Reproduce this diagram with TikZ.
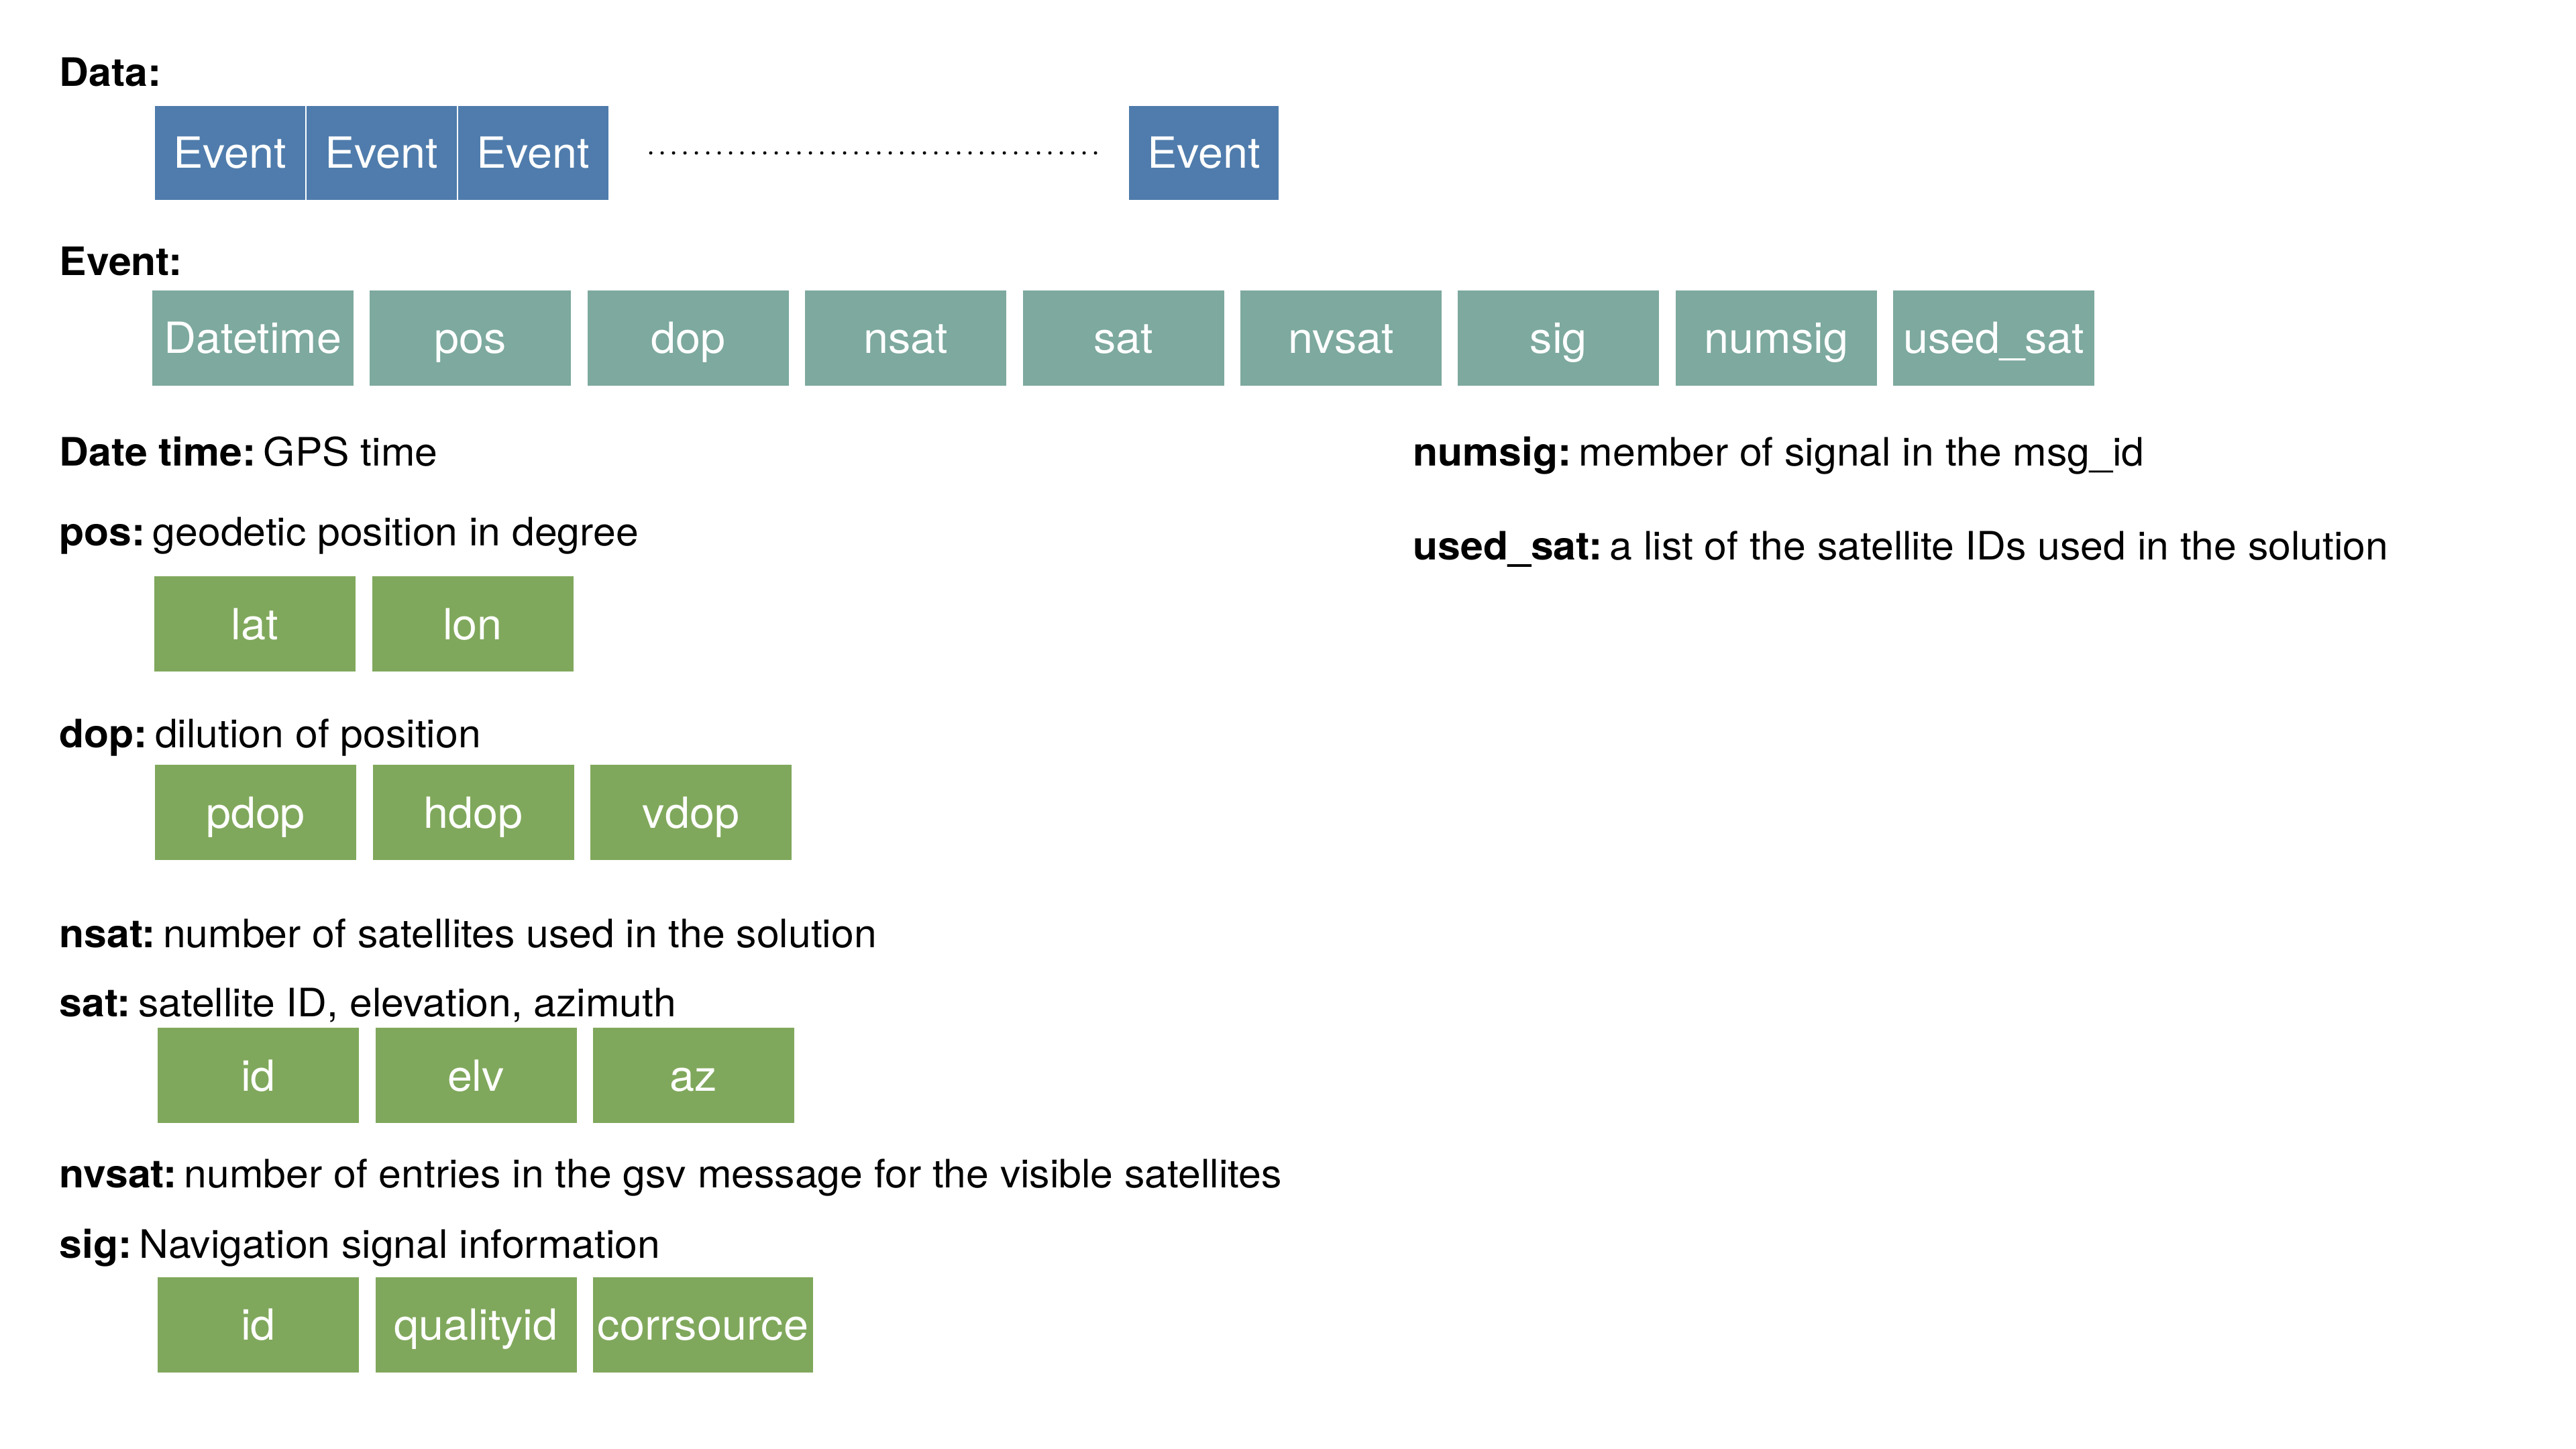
\documentclass[tikz,border=0pt]{standalone}
\usepackage{fontspec}
\setmainfont[FakeStretch=1.04]{TeX Gyre Heros}
\usepackage{xcolor}
\usepackage{tikz}
\definecolor{bleuevt}{RGB}{79,124,172}
\definecolor{vertchamp}{RGB}{125,169,158}
\definecolor{vertsous}{RGB}{128,168,92}
\def\Etiquette#1#2{{\bfseries #1}\hspace{0.19em}#2}

\begin{document}
\begin{tikzpicture}[xscale=1,yscale=1]
% Styles (MODIFIABLES)
\tikzstyle{titre}=[anchor=base west,inner sep=0pt,font=\fontsize{16.6}{20}\selectfont]
\tikzstyle{boite}=[text=white,minimum height=1.42cm,inner sep=0pt,text height=0.46cm,text depth=0pt,font=\fontsize{18.2}{22}\selectfont]
\tikzstyle{evenement}=[boite,fill=bleuevt,draw=white,line width=0.6pt,minimum width=2.26cm]
\tikzstyle{champ}=[boite,fill=vertchamp,minimum width=3cm]
\tikzstyle{souschamp}=[boite,fill=vertsous,minimum width=3cm]
\tikzstyle{pointilles}=[line width=0.05cm,line cap=round,dash pattern=on 0pt off 0.17cm]
% Dimensions (MODIFIABLES)
\def\PasChamp{3.244}
\def\PasSousChamp{3.245}
\def\MargeGauche{0.88}
% Cadre
\useasboundingbox (0,0) rectangle (38.4,-21.6);
% Textes
\node[titre] (tData) at (\MargeGauche,-1.29) {\bfseries Data:};
\node[titre] (tEvent) at (\MargeGauche,-4.11) {\bfseries Event:};
\node[titre] (tDatetime) at (\MargeGauche,-6.94) {\Etiquette{Date time:}{GPS time}};
\node[titre] (tPos) at (\MargeGauche,-8.13) {\Etiquette{pos:}{geodetic position in degree}};
\node[titre] (tDop) at (\MargeGauche,-11.14) {\Etiquette{dop:}{dilution of position}};
\node[titre] (tNsat) at (\MargeGauche,-14.12) {\Etiquette{nsat:}{number of satellites used in the solution}};
\node[titre] (tSat) at (\MargeGauche,-15.15) {\Etiquette{sat:}{satellite ID, elevation, azimuth}};
\node[titre] (tNvsat) at (\MargeGauche,-17.70) {\Etiquette{nvsat:}{number of entries in the gsv message for the visible satellites}};
\node[titre] (tSig) at (\MargeGauche,-18.75) {\Etiquette{sig:}{Navigation signal information}};
\node[titre] (tNumsig) at (21.06,-6.94) {\Etiquette{numsig:}{member of signal in the msg\_id}};
\node[titre] (tUsedsat) at (21.06,-8.34) {\Etiquette{used\_sat:}{a list of the satellite IDs used in the solution}};
% Donnees
\node[evenement] (E1) at (3.43,-2.28) {Event};
\node[evenement] (E2) at (5.69,-2.28) {Event};
\node[evenement] (E3) at (7.95,-2.28) {Event};
\node[evenement] (En) at (17.945,-2.28) {Event};
% Champs d'un evenement
\node[champ] (C1) at ({3.77+(0)*\PasChamp},-5.04) {Datetime};
\node[champ] (C2) at ({3.77+(1)*\PasChamp},-5.04) {pos};
\node[champ] (C3) at ({3.77+(2)*\PasChamp},-5.04) {dop};
\node[champ] (C4) at ({3.77+(3)*\PasChamp},-5.04) {nsat};
\node[champ] (C5) at ({3.77+(4)*\PasChamp},-5.04) {sat};
\node[champ] (C6) at ({3.77+(5)*\PasChamp},-5.04) {nvsat};
\node[champ] (C7) at ({3.77+(6)*\PasChamp},-5.04) {sig};
\node[champ] (C8) at ({3.77+(7)*\PasChamp},-5.04) {numsig};
\node[champ] (C9) at ({3.77+(8)*\PasChamp},-5.04) {used\_sat};
% Sous-champs
\node[souschamp] (Pa) at ({3.80+(0)*\PasSousChamp},-9.30) {lat};
\node[souschamp] (Pb) at ({3.80+(1)*\PasSousChamp},-9.30) {lon};
\node[souschamp] (Da) at ({3.81+(0)*\PasSousChamp},-12.11) {pdop};
\node[souschamp] (Db) at ({3.81+(1)*\PasSousChamp},-12.11) {hdop};
\node[souschamp] (Dc) at ({3.81+(2)*\PasSousChamp},-12.11) {vdop};
\node[souschamp] (Sa) at ({3.85+(0)*\PasSousChamp},-16.03) {id};
\node[souschamp] (Sb) at ({3.85+(1)*\PasSousChamp},-16.03) {elv};
\node[souschamp] (Sc) at ({3.85+(2)*\PasSousChamp},-16.03) {az};
\node[souschamp] (Ga) at ({3.85+(0)*\PasSousChamp},-19.745) {id};
\node[souschamp] (Gb) at ({3.85+(1)*\PasSousChamp},-19.745) {qualityid};
\node[souschamp,minimum width=3.28cm] (Gc) at (10.48,-19.745) {corrsource};
% Pointilles
\draw[pointilles,shorten <=0.61cm,shorten >=0.45cm] (E3.east) -- (En.west);
\end{tikzpicture}
\end{document}
